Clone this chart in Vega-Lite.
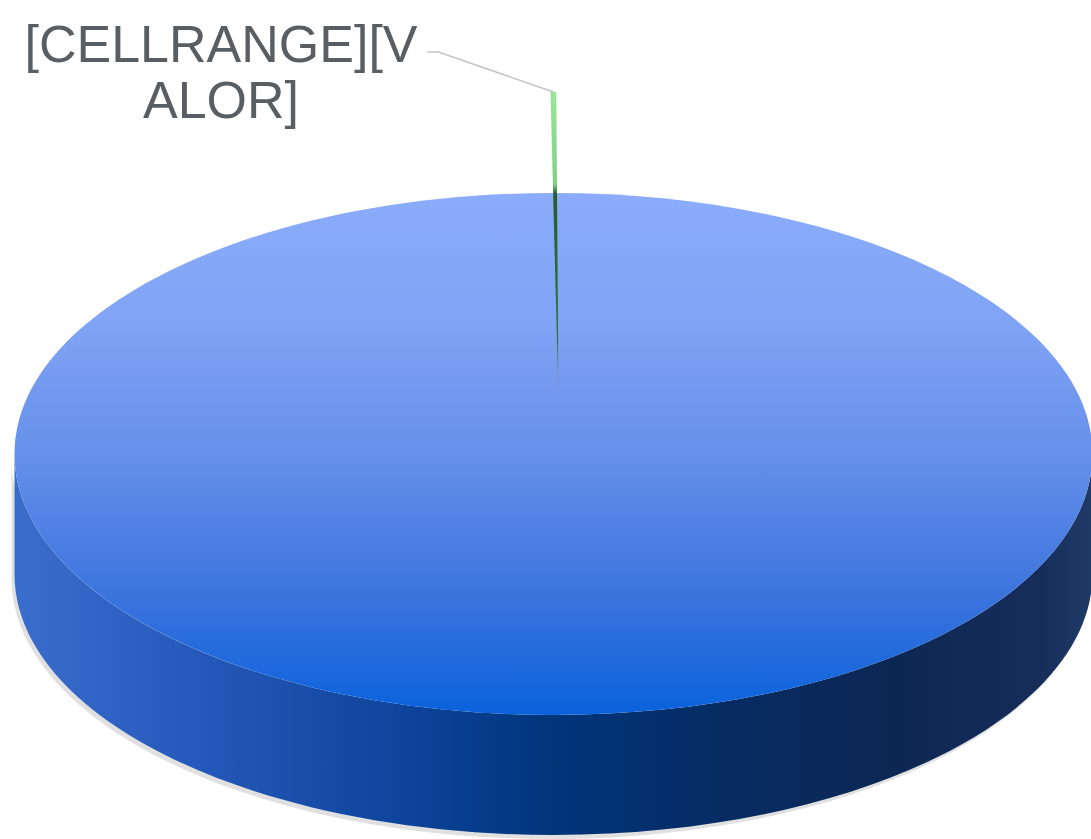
{
  "$schema": "https://vega.github.io/schema/vega-lite/v6.json",
  "autosize": {"type": "fit", "contains": "padding"},
  "width": 1091,
  "height": 839,
  "padding": 0,
  "background": "white",
  "view": {"stroke": null},
  "data": {
    "values": [
      {"categoria": "A", "valor": 99.7, "etiqueta": ""},
      {"categoria": "B", "valor": 0.3, "etiqueta": "[CELLRANGE][V\nALOR]"}
    ]
  },
  "layer": [
    {
      "transform": [{"filter": "datum.categoria === 'A'"}],
      "mark": {
        "type": "point",
        "filled": true,
        "opacity": 0.18,
        "fill": "#555555",
        "strokeWidth": 0,
        "size": 1162084,
        "xOffset": 6.5,
        "yOffset": 38.5,
        "shape": "M -1 0 L -1 0.2226 C -1 0.49 -0.5523 0.7068 0 0.7068 C 0.5523 0.7068 1 0.49 1 0.2226 L 1 0 C 1 0.2674 0.5523 0.4842 0 0.4842 C -0.5523 0.4842 -1 0.2674 -1 0 Z"
      },
      "encoding": {}
    },
    {
      "transform": [{"filter": "datum.categoria === 'A'"}],
      "mark": {
        "type": "point",
        "filled": true,
        "opacity": 1,
        "strokeWidth": 0,
        "size": 1162084,
        "xOffset": 9.5,
        "yOffset": 34.5,
        "shape": "M -1 0 L -1 0.2226 C -1 0.49 -0.5523 0.7068 0 0.7068 C 0.5523 0.7068 1 0.49 1 0.2226 L 1 0 C 1 0.2674 0.5523 0.4842 0 0.4842 C -0.5523 0.4842 -1 0.2674 -1 0 Z",
        "fill": {
          "gradient": "linear", "x1": 0, "y1": 0, "x2": 1, "y2": 0,
          "stops": [
            {"offset": 0, "color": "#3b6dcd"},
            {"offset": 0.18, "color": "#2458b8"},
            {"offset": 0.36, "color": "#0d449c"},
            {"offset": 0.5, "color": "#00357a"},
            {"offset": 0.65, "color": "#062c64"},
            {"offset": 0.82, "color": "#0d2753"},
            {"offset": 0.95, "color": "#162d5a"},
            {"offset": 1, "color": "#203a68"}
          ]
        }
      },
      "encoding": {}
    },
    {
      "transform": [{"filter": "datum.categoria === 'A'"}],
      "mark": {
        "type": "point",
        "filled": true,
        "opacity": 1,
        "strokeWidth": 0,
        "size": 1162084,
        "xOffset": 9.5,
        "yOffset": 34.5,
        "shape": "M -1 0 C -1 -0.2674 -0.5523 -0.4842 0 -0.4842 C 0.5523 -0.4842 1 -0.2674 1 0 C 1 0.2674 0.5523 0.4842 0 0.4842 C -0.5523 0.4842 -1 0.2674 -1 0 Z",
        "fill": {
          "gradient": "linear", "x1": 0, "y1": 0, "x2": 0, "y2": 1,
          "stops": [
            {"offset": 0, "color": "#8aacfa"},
            {"offset": 0.25, "color": "#80a3f5"},
            {"offset": 0.5, "color": "#6690ea"},
            {"offset": 0.78, "color": "#3a73dd"},
            {"offset": 1, "color": "#0a62dc"}
          ]
        }
      },
      "encoding": {}
    },
    {
      "mark": {
        "type": "arc",
        "radius": 308,
        "xOffset": 14.5,
        "yOffset": -19.5,
        "strokeWidth": 0,
        "fill": {
          "gradient": "linear", "x1": 0, "y1": 0, "x2": 0, "y2": 1,
          "stops": [
            {"offset": 0, "color": "#98e69c"},
            {"offset": 0.3, "color": "#7fcf85"},
            {"offset": 0.33, "color": "#255e2c"},
            {"offset": 0.8, "color": "#2f7038"},
            {"offset": 1, "color": "#a0aab8"}
          ]
        }
      },
      "encoding": {
        "theta": {"field": "valor", "type": "quantitative", "stack": true, "scale": {"range": [-0.026, 6.2572]}},
        "order": {"field": "categoria", "sort": "descending"},
        "opacity": {"condition": {"test": "datum.categoria === 'B'", "value": 1}, "value": 0}
      }
    },
    {
      "transform": [{"filter": "datum.categoria === 'B'"}],
      "mark": {
        "type": "point",
        "filled": false,
        "opacity": 1,
        "stroke": "#c3c3c3",
        "strokeWidth": 1.5,
        "size": 4,
        "shape": "M -116.5 -367.5 L -105.5 -367.5 L 9.5 -327.5"
      },
      "encoding": {}
    },
    {
      "transform": [{"filter": "datum.categoria === 'B'"}],
      "mark": {
        "type": "text",
        "font": "Liberation Sans",
        "fontSize": 52,
        "color": "#595e63",
        "align": "center",
        "baseline": "alphabetic",
        "lineBreak": "\n",
        "lineHeight": 56,
        "dx": -323,
        "dy": -358
      },
      "encoding": {
        "text": {"field": "etiqueta", "type": "nominal"}
      }
    }
  ]
}
